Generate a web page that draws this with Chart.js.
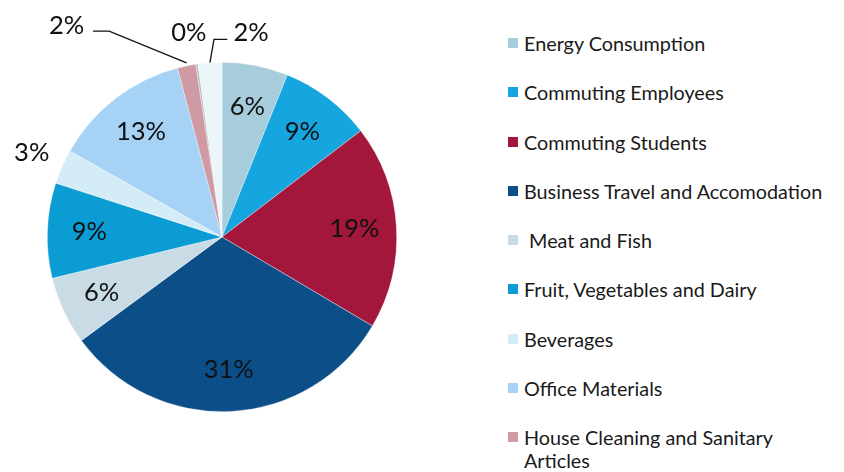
<!DOCTYPE html>
<html>
<head>
<meta charset="utf-8">
<script src="https://cdn.jsdelivr.net/npm/chart.js@4"></script>
<style>
  html, body { margin:0; padding:0; background:#fff; overflow:hidden; }
  body { width:844px; height:472px; position:relative; font-family:Lato, "Open Sans", sans-serif; }
  #pieBox { position:absolute; left:0; top:0; width:444px; height:472px; }
  #legend { position:absolute; left:508px; top:32px; width:316px; }
  .item { position:relative; padding-left:16px; font-size:19.8px; line-height:23px; color:#1a1a1a; margin-bottom:26.3px; white-space:pre-wrap; }
  .item span.box { position:absolute; left:0; top:6px; width:10px; height:10px; }
</style>
</head>
<body>
<div id="pieBox"><canvas id="pieChart"></canvas></div>
<div id="legend"></div>

<script>
// Carbon footprint shares (%)

let categories = [
  "Energy Consumption",
  "Commuting Employees",
  "Commuting Students",
  "Business Travel and Accomodation",
  " Meat and Fish",
  "Fruit, Vegetables and Dairy",
  "Beverages",
  "Office Materials",
  "House Cleaning and Sanitary Articles",
  "Other (0%)",
  "Other (2%)"
];

let shares = [6.1, 8.5, 18.9, 31.4, 6.3, 8.8, 3.2, 12.7, 1.7, 0.2, 2.2];

let colors = [
  "#a7ccdc", "#15a6df", "#a3173c", "#0c4e87", "#c9dbe5", "#0c9cd4",
  "#d3ecf5", "#a5d2f5", "#cf9aa3", "#b9b9b9", "#ecf6fa"
];

// the source legend is cut off at the bottom after 9 entries
let legendCount = 9;


function pct(v){
  return Math.round(v) + "%";
}


// percent labels, inside the big slices and with callouts for the tiny ones at the top
let pctLabels = {
  id: "pctLabels",
  afterDatasetsDraw(chart){
    let ctx = chart.ctx;
    let meta = chart.getDatasetMeta(0);
    ctx.save();
    ctx.font = "25.5px Lato, 'Open Sans', sans-serif";
    ctx.fillStyle = "#111";
    ctx.strokeStyle = "#111";
    ctx.lineWidth = 1.3;
    ctx.textAlign = "center";
    ctx.textBaseline = "middle";

    meta.data.forEach((arc, i) => {
      let p = arc.getProps(["x", "y", "startAngle", "endAngle", "outerRadius"], true);
      let R = p.outerRadius;
      let mid = (p.startAngle + p.endAngle) / 2;
      let txt = pct(shares[i]);

      if(i === 8){
        // left "2%" with elbow leader
        let ex = p.x + Math.cos(mid) * R, ey = p.y + Math.sin(mid) * R;
        ctx.beginPath();
        ctx.moveTo(p.x - 0.738 * R, p.y - 1.178 * R);
        ctx.lineTo(p.x - 0.646 * R, p.y - 1.178 * R);
        ctx.lineTo(ex, ey - 3);
        ctx.stroke();
        ctx.fillText(txt, p.x - 0.89 * R, p.y - 1.211 * R);
        return;
      }
      if(i === 9){
        ctx.fillText(txt, p.x - 0.19 * R, p.y - 1.171 * R);
        return;
      }
      if(i === 10){
        let ex = p.x + Math.cos(mid) * R, ey = p.y + Math.sin(mid) * R;
        ctx.beginPath();
        ctx.moveTo(p.x + 0.03 * R, p.y - 1.131 * R);
        ctx.lineTo(p.x - 0.046 * R, p.y - 1.131 * R);
        ctx.lineTo(ex, ey);
        ctx.stroke();
        ctx.fillText(txt, p.x + 0.166 * R, p.y - 1.171 * R);
        return;
      }

      let r = shares[i] < 4 ? 1.19 * R : 0.76 * R;
      ctx.fillText(txt, p.x + Math.cos(mid) * r, p.y + Math.sin(mid) * r);
    });
    ctx.restore();
  }
};


function drawPie(){
  let canvas = document.getElementById("pieChart");
  new Chart(canvas, {
    type: "pie",
    data: {
      labels: categories,
      datasets: [{
        data: shares,
        backgroundColor: colors,
        borderColor: "rgba(255,255,255,0.6)",
        borderWidth: 0.6
      }]
    },
    options: {
      responsive: true,
      maintainAspectRatio: false,
      animation: false,
      layout: { padding: { top: 62, bottom: 60, left: 47, right: 47 } },
      plugins: {
        legend: { display: false },
        tooltip: { enabled: false }
      }
    },
    plugins: [pctLabels]
  });
}


function drawLegend(){
  let box = document.getElementById("legend");
  categories.slice(0, legendCount).forEach((name, i) => {
    let row = document.createElement("div");
    row.className = "item";
    let sw = document.createElement("span");
    sw.className = "box";
    sw.style.background = colors[i];
    row.appendChild(sw);
    row.appendChild(document.createTextNode(name));
    box.appendChild(row);
  });
}


drawPie();
drawLegend();
</script>
</body>
</html>
